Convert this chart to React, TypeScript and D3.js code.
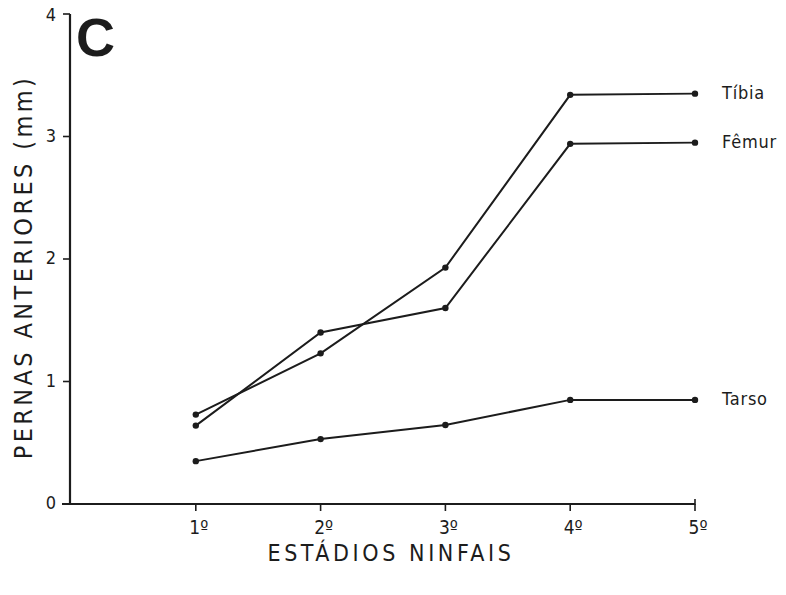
import React from 'react';
import * as d3 from 'd3';

const W = 786;
const H = 595;

const stages = [1, 2, 3, 4, 5];
const stageLabels = ['1º', '2º', '3º', '4º', '5º'];
const yTicks = [0, 1, 2, 3, 4];

const tibia = [0.73, 1.23, 1.93, 3.34, 3.35];
const femur = [0.64, 1.4, 1.6, 2.94, 2.95];
const tarso = [0.35, 0.53, 0.645, 0.85, 0.85];

const seriesNames = ['Tíbia', 'Fêmur', 'Tarso'];
const seriesValues = [tibia, femur, tarso];

const FONT = '"DejaVu Sans Condensed", "DejaVu Sans", sans-serif';
const INK = '#1c1c1c';

const App = () => {
  const x = d3.scaleLinear().domain([0, 5]).range([71, 695]);
  const y = d3.scaleLinear().domain([0, 4]).range([504, 14]);

  const line = d3
    .line<number>()
    .x((_, i) => x(stages[i]))
    .y((d) => y(d));

  const axisX0 = 70;
  const axisY0 = y(0);

  return (
    <svg width={W} height={H} style={{ position: 'absolute', left: 0, top: 0, background: '#fff' }}>
      {/* y axis */}
      <line x1={axisX0} x2={axisX0} y1={y(4)} y2={axisY0} stroke={INK} strokeWidth={2.2} />
      {yTicks.map((t) => (
        <g key={t}>
          <line x1={axisX0 - 7} x2={axisX0} y1={y(t)} y2={y(t)} stroke={INK} strokeWidth={1.6} />
          <text
            x={axisX0 - 14}
            y={t === 4 ? y(t) + 2 : y(t)}
            textAnchor="end"
            dominantBaseline="middle"
            fontFamily={FONT}
            fontSize={18}
            fill={INK}
          >
            {t}
          </text>
        </g>
      ))}

      {/* x axis */}
      <line x1={axisX0 - 8} x2={x(5)} y1={axisY0} y2={axisY0} stroke={INK} strokeWidth={2.2} />
      <line x1={x(5)} x2={x(5)} y1={axisY0 - 5} y2={axisY0 + 1} stroke={INK} strokeWidth={1.6} />
      {stages.map((s, i) => (
        <g key={s}>
          <line x1={x(s)} x2={x(s)} y1={axisY0} y2={axisY0 + 7} stroke={INK} strokeWidth={1.6} />
          <text
            x={x(s) + 3}
            y={axisY0 + 30}
            textAnchor="middle"
            fontFamily={FONT}
            fontSize={19}
            fill={INK}
          >
            {stageLabels[i]}
          </text>
        </g>
      ))}

      {/* axis titles */}
      <text
        x={391}
        y={561}
        textAnchor="middle"
        fontFamily={FONT}
        fontSize={23}
        letterSpacing={3.6}
        fill={INK}
      >
        ESTÁDIOS NINFAIS
      </text>
      <text
        transform={`translate(32, 267) rotate(-90)`}
        textAnchor="middle"
        fontFamily={FONT}
        fontSize={25}
        letterSpacing={3.4}
        fill={INK}
      >
        PERNAS ANTERIORES (mm)
      </text>

      {/* panel letter */}
      <text x={76} y={56} fontFamily='"Liberation Sans", Arial, sans-serif' fontWeight="bold" fontSize={54} fill={INK}>
        C
      </text>

      {/* series */}
      {seriesValues.map((vals, k) => (
        <g key={seriesNames[k]}>
          <path d={line(vals) ?? ''} fill="none" stroke={INK} strokeWidth={2} />
          {vals.map((v, i) => (
            <circle key={i} cx={x(stages[i])} cy={y(v)} r={3.2} fill={INK} />
          ))}
          <text
            x={722}
            y={y(vals[vals.length - 1])}
            dominantBaseline="middle"
            fontFamily={FONT}
            fontSize={18}
            letterSpacing={0.8}
            fill={INK}
          >
            {seriesNames[k]}
          </text>
        </g>
      ))}
    </svg>
  );
};

export default App;
